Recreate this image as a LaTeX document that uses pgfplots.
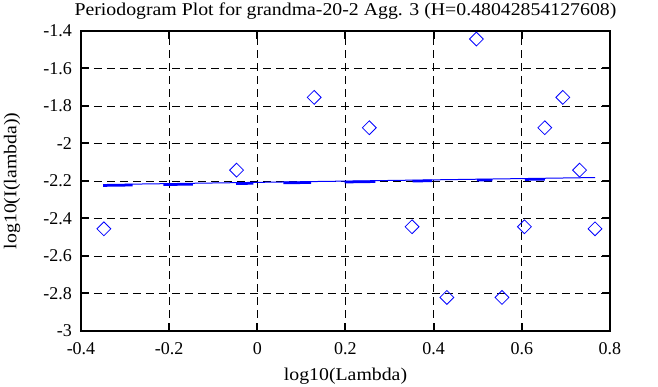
\documentclass[border=0pt]{standalone}
\usepackage{fontspec}
\setmainfont{Liberation Serif}
\newfontfamily\widefont[FakeStretch=1.1]{Liberation Serif}
\usepackage{pgfplots}
\pgfplotsset{compat=1.18}
\begin{document}
\fontsize{18}{21}\selectfont
\begin{tikzpicture}
\path[use as bounding box] (-81pt,-56pt) rectangle (577pt,331pt);
\begin{axis}[
  at={(0pt,0pt)}, anchor=south west,
  width=529pt, height=300pt, scale only axis,
  xmin=-0.4, xmax=0.8, ymin=-3, ymax=-1.4,
  xtick={-0.4,-0.2,0,0.2,0.4,0.6,0.8},
  xticklabels={-0.4,-0.2,0,0.2,0.4,0.6,0.8},
  ytick={-3,-2.8,-2.6,-2.4,-2.2,-2,-1.8,-1.6,-1.4},
  yticklabels={-3,-2.8,-2.6,-2.4,-2.2,-2,-1.8,-1.6,-1.4},
  grid=major,
  major grid style={black, line width=0.8pt, dash pattern=on 8pt off 5pt},
  axis line style={black, line width=2.2pt},
  tick style={black, line width=2pt},
  tick align=inside, major tick length=8pt,
  ticklabel style={font=\fontsize{18}{21}\selectfont},
  xticklabel style={anchor=center, inner sep=0pt, yshift=-18pt},
  yticklabel style={anchor=east, inner sep=0pt, xshift=-9pt},
  title={\widefont Periodogram Plot for grandma-20-2 Agg. 3 (H=0.48042854127608)},
  title style={at={(axis description cs:0.5,1.057)}, anchor=base, inner sep=0pt, yshift=-8pt, font=\fontsize{18}{21}\selectfont},
  xlabel={\widefont log10(Lambda)},
  xlabel style={at={(axis description cs:0.5,-0.15)}, anchor=center, inner sep=0pt, font=\fontsize{18}{21}\selectfont},
  ylabel={\widefont log10(I(lambda))},
  ylabel style={at={(axis description cs:-0.1304,0.5)}, anchor=center, inner sep=0pt, font=\fontsize{18}{21}\selectfont},
  unbounded coords=jump,
  clip=false,
]
\addplot[blue, line width=1pt] coordinates {(-0.350,-2.2190) (0.766,-2.1816)};
\addplot[blue, line width=2.5pt, yshift=-1pt] coordinates {
(-0.350,-2.2190) (-0.283,-2.2168) (-0.28,nan)
(-0.213,-2.2144) (-0.146,-2.2122) (-0.14,nan)
(-0.048,-2.2089) (-0.009,-2.2076) (0,nan)
(0.059,-2.2053) (0.122,-2.2032) (0.13,nan)
(0.198,-2.2007) (0.268,-2.1983) (0.27,nan)
(0.352,-2.1955) (0.396,-2.1940) (0.40,nan)
(0.498,-2.1906) (0.533,-2.1894) (0.54,nan)
(0.607,-2.1870) (0.652,-2.1855)
};
\addplot[only marks, blue, mark=square, mark size=4.9pt, mark options={rotate=45, line width=0.8pt, blue}] coordinates {
(-0.348,-2.455) (-0.047,-2.142) (0.129,-1.754) (0.254,-1.916)
(0.351,-2.444) (0.430,-2.821) (0.497,-1.443) (0.555,-2.821)
(0.606,-2.444) (0.652,-1.916) (0.693,-1.754) (0.731,-2.142)
(0.766,-2.455)
};
\end{axis}
\end{tikzpicture}
\end{document}
